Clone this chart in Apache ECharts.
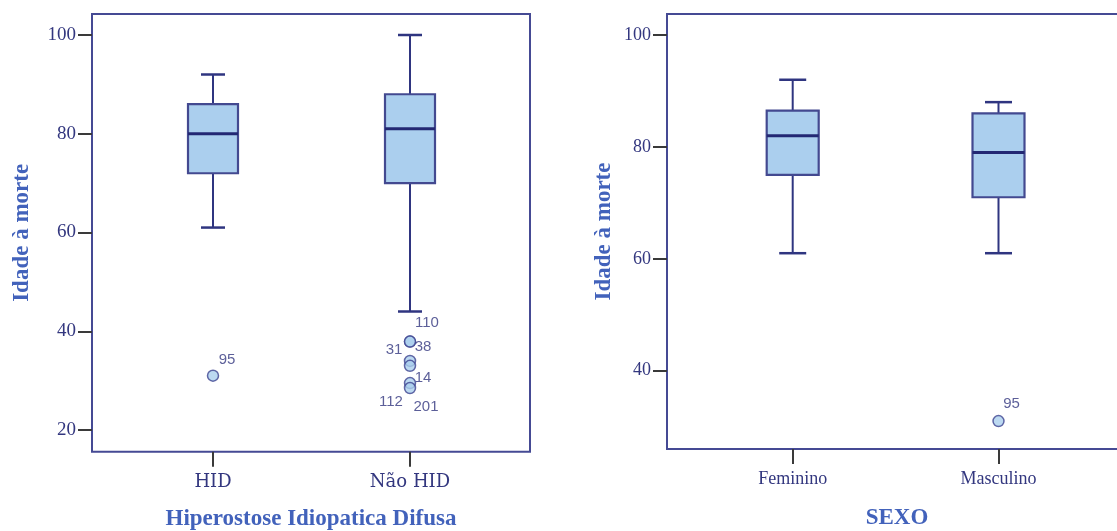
<!DOCTYPE html>
<html>
<head>
<meta charset="utf-8">
<script src="https://cdn.jsdelivr.net/npm/echarts@6/dist/echarts.min.js"></script>
<style>html,body{margin:0;padding:0;background:#fff}#c{width:1117px;height:531px}</style>
</head>
<body>
<div id="c"></div>
<script>
// ---- data ----
const leftCategories = ['HID', 'Não HID'];
const leftStats = [            // [min, Q1, median, Q3, max]
  [61, 72, 80, 86, 92],
  [44, 70, 81, 88, 100]
];
const leftOutlierCategory = [0, 1, 1, 1, 1, 1, 1];
const leftOutlierValues   = [31, 37.9, 37.9, 34, 33, 29.5, 28.5];
const leftOutlierCases    = ['95', '110', '38', '31', '14', '112', '201'];

const rightCategories = ['Feminino', 'Masculino'];
const rightStats = [
  [61, 75, 82, 86.5, 92],
  [61, 71, 79, 86, 88]
];
const rightOutlierCategory = [1];
const rightOutlierValues   = [31];
const rightOutlierCases    = ['95'];

const leftYTicks = [20, 100, 20];   // min, max, interval
const rightYTicks = [40, 100, 20];

// ---- style ----
const leftLabelOffsets = [[14, -16], [17, -19], [13, 5], [-16, -11], [13, 12], [-19, 19], [16, 19]];
const rightLabelOffsets = [[13, -17]];

const NAVY = '#2f3580', MED = '#232873', FILL = '#abcfee', TXT = '#33377f', TITLE = '#4262bb', TICK = '#3a3a3a', FRAME = '#454a94';

function boxRender(boxW, capW) {
  return function (params, api) {
    const c = api.value(0);
    const lo = api.coord([c, api.value(1)]);
    const q1 = api.coord([c, api.value(2)]);
    const md = api.coord([c, api.value(3)]);
    const q3 = api.coord([c, api.value(4)]);
    const hi = api.coord([c, api.value(5)]);
    const x = lo[0];
    const ls = {stroke: NAVY, lineWidth: 2};
    return {type: 'group', children: [
      {type: 'line', shape: {x1: x, y1: hi[1], x2: x, y2: q3[1]}, style: ls},
      {type: 'line', shape: {x1: x, y1: q1[1], x2: x, y2: lo[1]}, style: ls},
      {type: 'line', shape: {x1: x - capW / 2, y1: hi[1], x2: x + capW / 2, y2: hi[1]}, style: {stroke: NAVY, lineWidth: 2.5}},
      {type: 'line', shape: {x1: x - capW / 2, y1: lo[1], x2: x + capW / 2, y2: lo[1]}, style: {stroke: NAVY, lineWidth: 2.5}},
      {type: 'rect', shape: {x: x - boxW / 2, y: q3[1], width: boxW, height: q1[1] - q3[1]}, style: {fill: FILL, stroke: '#434990', lineWidth: 2.2}},
      {type: 'line', shape: {x1: x - boxW / 2, y1: md[1], x2: x + boxW / 2, y2: md[1]}, style: {stroke: MED, lineWidth: 3}}
    ]};
  };
}

function statsData(stats) {
  return stats.map((s, i) => [i].concat(s));
}
function outlierData(cats, vals, cases, offs) {
  return vals.map((v, i) => ({
    value: [cats[i], v],
    label: {show: true, formatter: cases[i], position: 'inside', offset: offs[i]}
  }));
}

function frameAxis(name, gap, extra) {
  return Object.assign({
    type: 'value', min: 0, max: 1, show: true,
    axisLine: {show: false}, axisTick: {show: false}, axisLabel: {show: false}, splitLine: {show: false},
    name: name, nameLocation: 'middle', nameGap: gap,
    nameTextStyle: {fontFamily: 'Liberation Serif', fontWeight: 'bold', fontSize: 23, color: TITLE}
  }, extra || {});
}
function catAxis(gridIndex, data, offset, font, size, margin) {
  return {
    type: 'category', gridIndex: gridIndex, data: data, offset: offset,
    axisLine: {show: false},
    axisTick: {show: true, alignWithLabel: true, length: 15, lineStyle: {color: TICK, width: 2}},
    axisLabel: {margin: margin, color: TXT, fontFamily: font, fontSize: size},
    splitLine: {show: false}
  };
}
function valAxis(gridIndex, t, offset, size) {
  return {
    type: 'value', gridIndex: gridIndex, min: t[0], max: t[1], interval: t[2], offset: offset,
    axisLine: {show: false},
    axisTick: {show: true, length: 14, lineStyle: {color: TICK, width: 2}},
    axisLabel: {margin: 16, color: TXT, fontFamily: 'Liberation Serif', fontSize: size},
    splitLine: {show: false}
  };
}

const scatterStyle = {
  symbol: 'circle', symbolSize: 11,
  itemStyle: {color: FILL, borderColor: '#3d4390', borderWidth: 1.5},
  label: {color: TXT, fontFamily: 'Liberation Sans', fontSize: 15}
};

const G = {containLabel: false, outerBoundsMode: 'none'};
const option = {
  animation: false,
  grid: [
    Object.assign({left: 92, top: 14, width: 438, height: 437.7, show: true, borderColor: FRAME, borderWidth: 2, backgroundColor: 'transparent'}, G),
    Object.assign({left: 114.5, top: 35, width: 394, height: 395}, G),
    Object.assign({left: 667, top: 14, width: 460, height: 435, show: true, borderColor: FRAME, borderWidth: 2, backgroundColor: 'transparent'}, G),
    Object.assign({left: 689.8, top: 35, width: 411.6, height: 335.7}, G)
  ],
  xAxis: [
    frameAxis('Hiperostose Idiopatica Difusa', 56, {gridIndex: 0}),
    catAxis(1, leftCategories, 21.7, 'DejaVu Serif', 18, 22),
    frameAxis('SEXO', 58, {gridIndex: 2}),
    catAxis(3, rightCategories, 78.3, 'Liberation Serif', 18, 21)
  ],
  yAxis: [
    frameAxis('Idade à morte', 58, {gridIndex: 0}),
    valAxis(1, leftYTicks, 22.5, 19),
    frameAxis('Idade à morte', 51, {gridIndex: 2}),
    valAxis(3, rightYTicks, 22.8, 18)
  ],
  series: [
    {type: 'custom', xAxisIndex: 1, yAxisIndex: 1, renderItem: boxRender(50, 24),
     encode: {x: 0, y: [1, 2, 3, 4, 5]}, data: statsData(leftStats), clip: false},
    Object.assign({type: 'scatter', xAxisIndex: 1, yAxisIndex: 1, clip: false,
     data: outlierData(leftOutlierCategory, leftOutlierValues, leftOutlierCases, leftLabelOffsets)}, scatterStyle),
    {type: 'custom', xAxisIndex: 3, yAxisIndex: 3, renderItem: boxRender(52, 27),
     encode: {x: 0, y: [1, 2, 3, 4, 5]}, data: statsData(rightStats), clip: false},
    Object.assign({type: 'scatter', xAxisIndex: 3, yAxisIndex: 3, clip: false,
     data: outlierData(rightOutlierCategory, rightOutlierValues, rightOutlierCases, rightLabelOffsets)}, scatterStyle)
  ]
};

const chart = echarts.init(document.getElementById('c'), null, {renderer: 'canvas'});
chart.setOption(option);
</script>
</body>
</html>
